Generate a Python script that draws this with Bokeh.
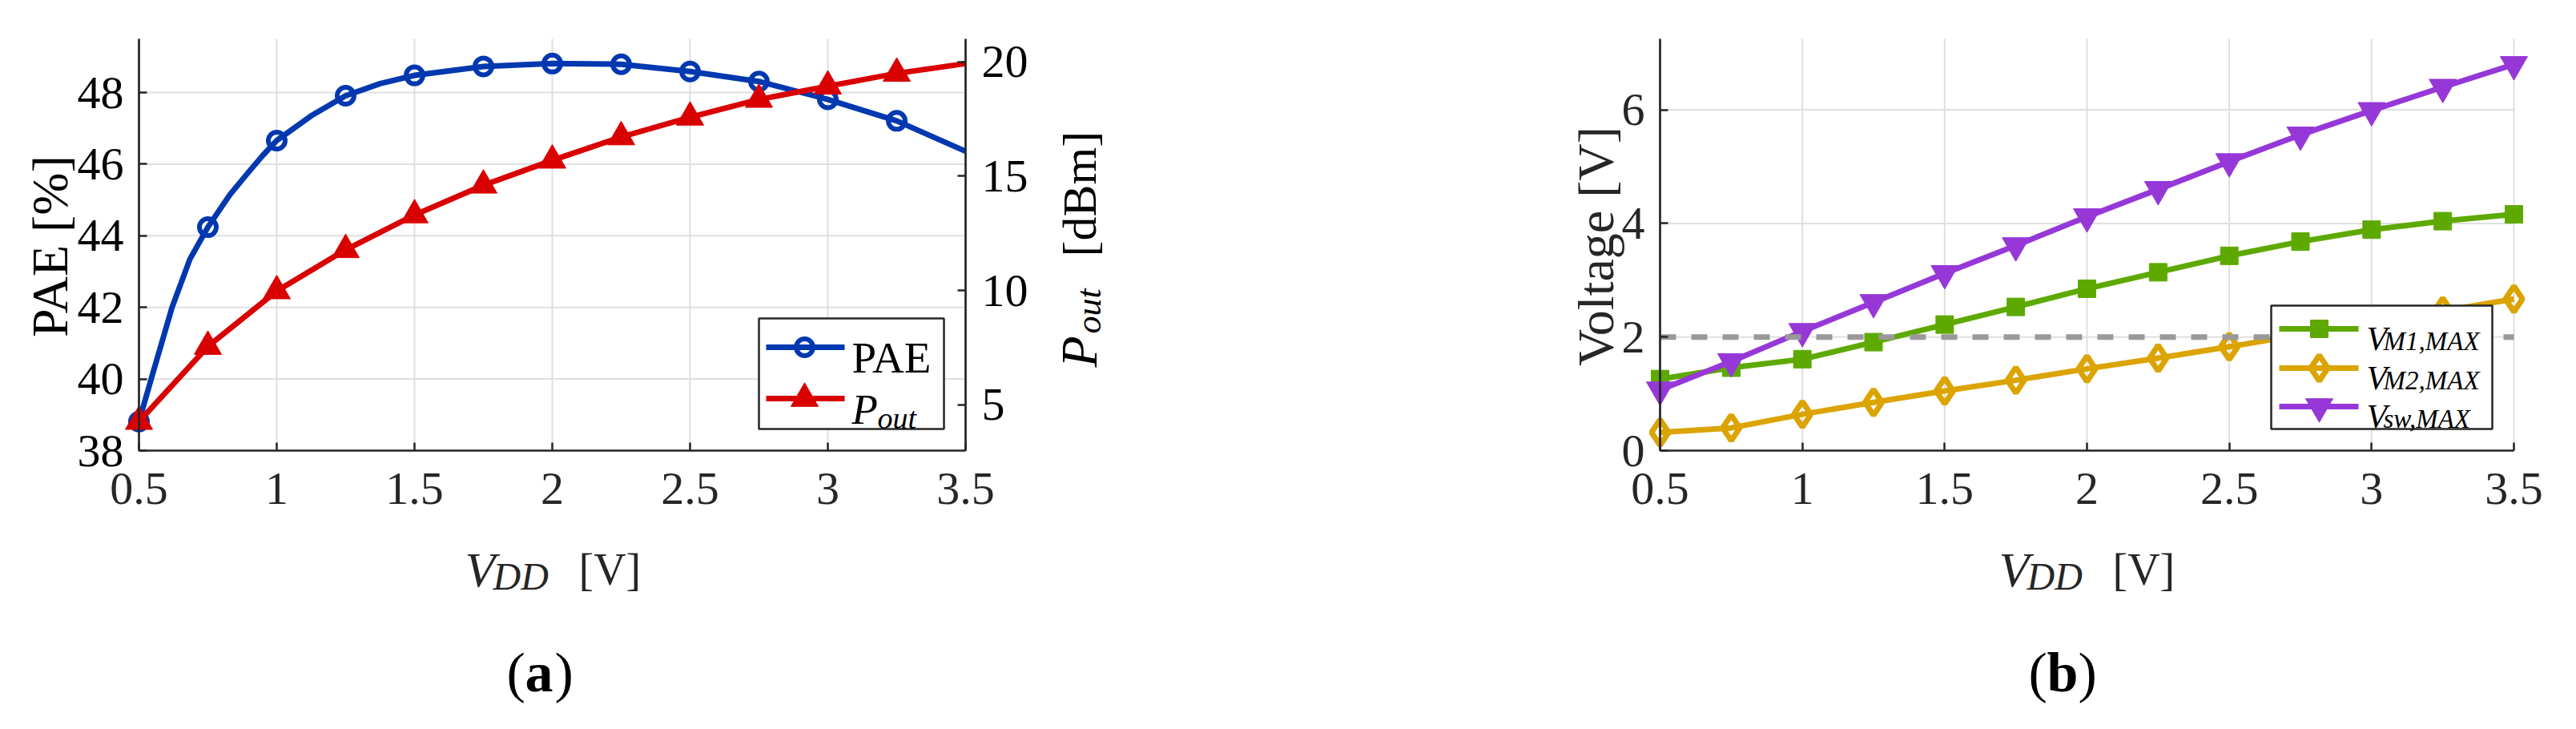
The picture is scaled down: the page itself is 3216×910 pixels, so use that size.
from math import pi
from bokeh.plotting import figure
from bokeh.layouts import row
from bokeh.models import Range1d, LinearAxis, FixedTicker, Label, NumeralTickFormatter
from bokeh.embed import file_html
from bokeh.resources import INLINE

# ---- data ----
vdd = [0.5, 0.75, 1.0, 1.25, 1.5, 1.75, 2.0, 2.25, 2.5, 2.75, 3.0, 3.25, 3.5]

# (a) markers stop at 3.25, curves run on to 3.5
pae = [38.81, 44.24, 46.66, 47.91, 48.48, 48.73, 48.81, 48.79, 48.59, 48.31, 47.81, 47.21, 46.36]
pout = [4.27, 7.55, 9.98, 11.78, 13.30, 14.60, 15.69, 16.71, 17.57, 18.35, 18.93, 19.49, 19.92]
# points
pae_curve_vdd = [0.5, 0.55, 0.62, 0.685, 0.75, 0.83, 0.9, 0.95, 1.0, 1.125, 1.25, 1.375, 1.5,
                 1.75, 2.0, 2.25, 2.5, 2.75, 3.0, 3.25, 3.5]
pae_curve = [38.81, 40.15, 42.0, 43.35, 44.24, 45.15, 45.8, 46.25, 46.66, 47.35, 47.91, 48.25,
             48.48, 48.73, 48.81, 48.79, 48.59, 48.31, 47.81, 47.21, 46.36]

# (b)
vm1 = [1.26, 1.46, 1.61, 1.91, 2.22, 2.53, 2.85, 3.14, 3.43, 3.68, 3.89, 4.04, 4.16]
vm2 = [0.32, 0.40, 0.64, 0.85, 1.05, 1.24, 1.44, 1.63, 1.83, 2.04, 2.25, 2.46, 2.67]
vsw = [1.07, 1.57, 2.10, 2.61, 3.12, 3.61, 4.12, 4.60, 5.09, 5.56, 5.99, 6.40, 6.80]
v_limit = 2.0

x_ticks = [0.5, 1, 1.5, 2, 2.5, 3, 3.5]
pae_ticks = [38, 40, 42, 44, 46, 48]
pout_ticks = [5, 10, 15, 20]
volt_ticks = [0, 2, 4, 6]

x_lim = (0.5, 3.5)
pae_lim = (38, 49.5)
pout_lim = (3, 21)
volt_lim = (0, 7.25)

SERIF = "Liberation Serif"
BLUE = "#0038B0"
RED = "#D90000"
GREEN = "#5EA900"
ORANGE = "#DBA400"
PURPLE = "#9638D8"
DARK = "#262626"
GRID = "#DFDFDF"

# page pixels (page margin is 8px); each figure is 1600 x 894
FIG_T, FIG_B = 8, 902
TOP, BOTTOM = 56, 570          # axes box
A_FIG, A_L, A_R = 8, 181, 1213
B_FIG, B_L, B_R = 1608, 2080, 3146


def mapper(left, right, xlim, ylim):
    # page pixel -> data coordinates, linear through the axes box
    def f(sx, sy):
        return (xlim[0] + (sx - left) / (right - left) * (xlim[1] - xlim[0]),
                ylim[0] + (BOTTOM - sy) / (BOTTOM - TOP) * (ylim[1] - ylim[0]))
    return f


def style_axis(ax, ticks, color, standoff):
    ax.ticker = FixedTicker(ticks=ticks)
    ax.axis_label = None
    ax.axis_line_color = DARK
    ax.axis_line_width = 2.7
    ax.major_tick_line_color = DARK
    ax.major_tick_line_width = 2.5
    ax.major_tick_in = 10
    ax.major_tick_out = 0
    ax.minor_tick_line_color = None
    ax.major_label_text_font = SERIF
    ax.major_label_text_font_size = "58px"
    ax.major_label_text_color = color
    ax.major_label_standoff = standoff


def txt(p, m, sx, sy, s, size, style="normal", angle=0, align="left", color="black"):
    x, y = m(sx, sy)
    p.add_layout(Label(x=x, y=y, text=s, text_font=SERIF, text_font_size=f"{size}px",
                       text_font_style=style, text_align=align, text_baseline="alphabetic",
                       angle=angle, text_color=color))


def make_fig(fig_x, left, right, ylim, y_ticks, y_color):
    m = mapper(left, right, x_lim, ylim)
    x0, y0 = m(fig_x, FIG_B)
    x1, y1 = m(fig_x + 1600, FIG_T)
    p = figure(width=1600, height=894, x_range=Range1d(x0, x1), y_range=Range1d(y0, y1),
               output_backend="svg", toolbar_location=None, min_border=0,
               outline_line_color=None, background_fill_color="white",
               border_fill_color="white")
    p.title.visible = False
    p.grid.visible = False
    # grid restricted to the axes box
    p.segment(x0=x_ticks, y0=[ylim[0]] * len(x_ticks), x1=x_ticks, y1=[ylim[1]] * len(x_ticks),
              line_color=GRID, line_width=2)
    p.segment(x0=[x_lim[0]] * len(y_ticks), y0=y_ticks, x1=[x_lim[1]] * len(y_ticks), y1=y_ticks,
              line_color=GRID, line_width=2)
    xa = p.xaxis[0]
    style_axis(xa, x_ticks, DARK, 28)
    xa.formatter = NumeralTickFormatter(format="0.[0]")
    xa.fixed_location = ylim[0]
    xa.bounds = x_lim
    ya = p.yaxis[0]
    style_axis(ya, y_ticks, y_color, 19)
    ya.fixed_location = x_lim[0]
    ya.bounds = ylim
    return p, m


# ---------------- (a) ----------------
pa, ma = make_fig(A_FIG, A_L, A_R, pae_lim, pae_ticks, "black")
mp = mapper(A_L, A_R, x_lim, pout_lim)
_, p0 = mp(A_FIG, FIG_B)
_, p1 = mp(A_FIG, FIG_T)
pa.extra_y_ranges = {"pout": Range1d(p0, p1)}
right_ax = LinearAxis(y_range_name="pout", fixed_location=x_lim[1], bounds=pout_lim)
style_axis(right_ax, pout_ticks, "black", 20)
pa.add_layout(right_ax, "right")

pa.line(pae_curve_vdd, pae_curve, line_color=BLUE, line_width=7, line_join="round")
pa.scatter(vdd[:-1], pae[:-1], marker="circle", size=21, line_color=BLUE, line_width=6,
           fill_color=None)
pa.line(vdd, pout, y_range_name="pout", line_color=RED, line_width=7, line_join="round")
pa.scatter(vdd[:-1], pout[:-1], y_range_name="pout", marker="triangle", size=34,
           color=RED)

# legend (a)
l, t = ma(955, 405)
r, b = ma(1186, 543)
pa.quad(left=l, right=r, top=t, bottom=b, fill_color="white", line_color=DARK, line_width=2.5)
for row_y, col, mk, sz in [(441, BLUE, "circle", 21), (505, RED, "triangle", 34)]:
    x0, y0 = ma(964, row_y)
    x1, _ = ma(1062, row_y)
    xm, _ = ma(1012, row_y)
    pa.segment(x0=[x0], y0=[y0], x1=[x1], y1=[y0], line_color=col, line_width=7)
    if mk == "circle":
        pa.scatter([xm], [y0], marker=mk, size=sz, line_color=col, line_width=6, fill_color=None)
    else:
        pa.scatter([xm], [y0], marker=mk, size=sz, color=col)
txt(pa, ma, 1071, 454, "PAE", 55)
txt(pa, ma, 1071, 518, "P", 53, "italic")
txt(pa, ma, 1103, 529, "out", 38, "italic")

# axis titles (a)
txt(pa, ma, 70, 315, "PAE [%]", 64, angle=pi / 2, align="center")
txt(pa, ma, 1355, 466, "P", 64, "italic", angle=pi / 2)
txt(pa, ma, 1367, 424, "out", 44, "italic", angle=pi / 2)
txt(pa, ma, 1355, 328, "[dBm]", 60, angle=pi / 2)
txt(pa, ma, 588, 718, "V", 62, "italic", color=DARK)
txt(pa, ma, 623, 727, "DD", 48, "italic", color=DARK)
txt(pa, ma, 730, 718, "[V]", 56, color=DARK)
txt(pa, ma, 640, 847, "(", 70)
txt(pa, ma, 663, 847, "a", 70, "bold")
txt(pa, ma, 700, 847, ")", 70)

# ---------------- (b) ----------------
pb, mb = make_fig(B_FIG, B_L, B_R, volt_lim, volt_ticks, DARK)

pb.line(vdd, vm1, line_color=GREEN, line_width=7, line_join="round")
pb.scatter(vdd, vm1, marker="square", size=22, color=GREEN)
pb.line(vdd, vm2, line_color=ORANGE, line_width=7, line_join="round")
pb.scatter(vdd, vm2, marker="diamond", size=32, line_color=ORANGE, line_width=7,
           fill_color=None)
pb.line(vdd, vsw, line_color=PURPLE, line_width=7, line_join="round")
pb.scatter(vdd, vsw, marker="inverted_triangle", size=34, color=PURPLE)
pb.line(list(x_lim), [v_limit, v_limit], line_color="#999999", line_width=7,
        line_dash="20 19")

# legend (b)
l, t = mb(2843, 389)
r, b = mb(3119, 543)
pb.quad(left=l, right=r, top=t, bottom=b, fill_color="white", line_color=DARK, line_width=2.5)
entries = [(418, GREEN, "square", 22, "M1,MAX"),
           (467, ORANGE, "diamond", 32, "M2,MAX"),
           (515, PURPLE, "inverted_triangle", 34, "sw,MAX")]
for row_y, col, mk, sz, sub in entries:
    x0, y0 = mb(2853, row_y)
    x1, _ = mb(2952, row_y)
    xm, _ = mb(2903, row_y)
    pb.segment(x0=[x0], y0=[y0], x1=[x1], y1=[y0], line_color=col, line_width=7)
    if mk == "diamond":
        pb.scatter([xm], [y0], marker=mk, size=sz, line_color=col, line_width=7, fill_color=None)
    else:
        pb.scatter([xm], [y0], marker=mk, size=sz, color=col)
    txt(pb, mb, 2962, row_y + 12, "V", 42, "italic")
    txt(pb, mb, 2983, row_y + 15, sub, 33, "italic")

# axis titles (b)
txt(pb, mb, 2000, 315, "Voltage [V]", 64, angle=pi / 2, align="center", color=DARK)
txt(pb, mb, 2503, 718, "V", 62, "italic", color=DARK)
txt(pb, mb, 2538, 727, "DD", 48, "italic", color=DARK)
txt(pb, mb, 2645, 718, "[V]", 56, color=DARK)
txt(pb, mb, 2540, 847, "(", 70)
txt(pb, mb, 2563, 847, "b", 70, "bold")
txt(pb, mb, 2602, 847, ")", 70)

layout = row(pa, pb)
open("out.html", "w").write(file_html(layout, INLINE))
